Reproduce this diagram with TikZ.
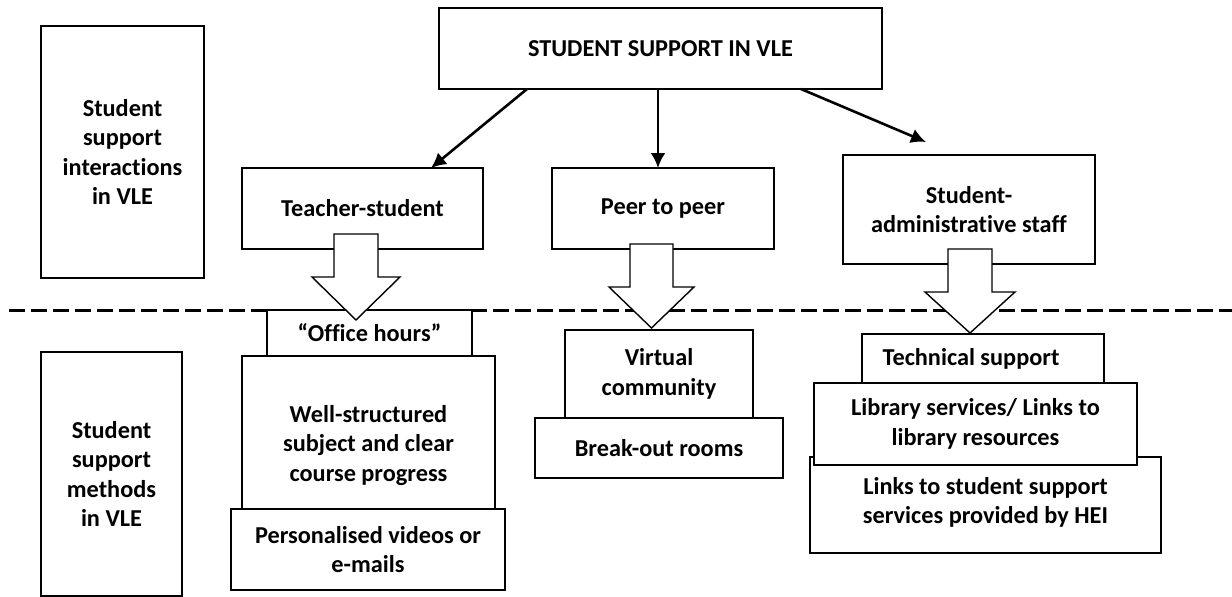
\documentclass[tikz,border=0pt]{standalone}
\usepackage{fontspec}
\setmainfont{Carlito}[Ligatures={NoCommon,TeX}]
\usetikzlibrary{arrows.meta}
\begin{document}
\begin{tikzpicture}[x=1pt,y=-1pt,
  box/.style={draw, line width=1.4pt, fill=white, inner sep=0pt, outer sep=0pt,
    align=center, font=\fontsize{24.3}{29.5}\selectfont\bfseries},
  conn/.style={line width=2.6pt, -{Latex[length=15pt,width=15pt]}},
  blockarrow/.style={draw, line width=1.4pt, fill=white, line join=miter},
  divider/.style={line width=3pt, dash pattern=on 16pt off 6pt}]
\useasboundingbox (0,0) rectangle (1232,597);
% divider
\coordinate (dl) at (9,310);
\coordinate (dr) at (1232,310);
\draw[divider] (dl) -- (dr);
% left labels
\node[box, minimum width=163, minimum height=252] (lt) at (122.5,152) {Student\\support\\interactions\\in VLE};
\node[box, minimum width=141, minimum height=244] (lb) at (111.5,474) {Student\\support\\methods\\in VLE};
% top level
\node[box, minimum width=443, minimum height=81] (top) at (660.5,48.5) {STUDENT SUPPORT IN VLE};
\node[box, minimum width=241, minimum height=81] (ts) at (362.5,208.5) {Teacher-student};
\node[box, minimum width=222, minimum height=81] (peer) at (663,208.5) {Peer to peer};
\node[box, minimum width=252, minimum height=109] (adm) at (969,209.5) {Student-\\administrative staff};
% connectors
\draw[conn] ([xshift=-133.5pt]top.south) -- ([xshift=68.5pt]ts.north);
\draw[conn] ([xshift=-2.5pt]top.south) -- ([xshift=-5pt]peer.north);
\draw[conn] ([xshift=140.5pt]top.south) -- ([xshift=-43pt,yshift=13pt]adm.north);
% methods: teacher-student
\node[box, minimum width=205, minimum height=46] (office) at (369.5,333) {“Office hours”};
\node[box, minimum width=253, minimum height=153] (well) at (368.5,432.5) {\rule{0pt}{43pt}Well-structured\\subject and clear\\course progress};
\node[box, minimum width=274, minimum height=81] (pers) at (368,549.5) {Personalised videos or\\e-mails};
% methods: peer
\node[box, minimum width=188, minimum height=88] (virt) at (659,374) {Virtual\\community};
\node[box, minimum width=248, minimum height=60] (brk) at (659,448) {Break-out rooms};
% methods: administrative
\node[box, minimum width=242, minimum height=50] (tech) at (983,359) {\hspace*{0pt}Technical support\hspace*{24pt}};
\node[box, minimum width=351, minimum height=96] (links) at (985.5,505) {Links to student support\\services provided by HEI\\[-20pt]\mbox{}};
\node[box, minimum width=323, minimum height=82] (lib) at (975.5,424) {Library services/ Links to\\library resources};
% block arrows
\draw[blockarrow] ([xshift=-28.5pt,yshift=15pt]ts.south) coordinate (a1)
  -- ++(0,43) -- ++(-22,0) -- ++(44,43) -- ++(44,-43) -- ++(-22,0) -- ++(0,-43) -- cycle;
\draw[blockarrow] ([xshift=-33pt,yshift=5pt]peer.south) coordinate (a2)
  -- ++(0,43) -- ++(-21,0) -- ++(42.5,41) -- ++(42.5,-41) -- ++(-21,0) -- ++(0,-43) -- cycle;
\draw[blockarrow] ([xshift=-21pt,yshift=15pt]adm.south) coordinate (a3)
  -- ++(0,43) -- ++(-23,0) -- ++(45,41) -- ++(45,-41) -- ++(-23,0) -- ++(0,-43) -- cycle;
\end{tikzpicture}
\end{document}
